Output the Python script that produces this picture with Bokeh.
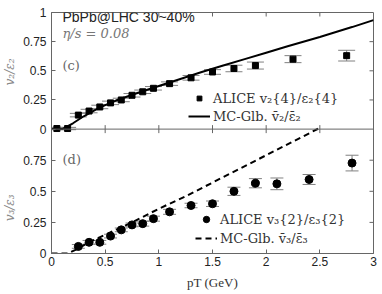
import math
from bokeh.plotting import figure
from bokeh.models import (ColumnDataSource, Range1d, LinearAxis, FixedTicker, Whisker,
                          TeeHead, Label, Legend, LegendItem, Span)
from bokeh.embed import file_html
from bokeh.resources import INLINE

# ---------------- data ----------------
# panel (c): ALICE v2{4}/eps2{4}
pt_v2 = [0.05, 0.15, 0.25, 0.35, 0.45, 0.55, 0.65, 0.75, 0.85, 0.95, 1.1, 1.3, 1.5, 1.7, 1.9, 2.25, 2.75]
v2_ratio = [0.005, 0.005, 0.12, 0.155, 0.19, 0.225, 0.25, 0.29, 0.32, 0.35, 0.39, 0.44, 0.49, 0.52, 0.545, 0.60, 0.63]
v2_err = [0.01, 0.01, 0.015, 0.015, 0.015, 0.015, 0.015, 0.015, 0.015, 0.015, 0.015, 0.02, 0.02, 0.028, 0.03, 0.03, 0.046]
# panel (c): MC-Glauber curve
mc_pt2 = [0, 0.1, 0.2, 0.3, 0.4, 0.5, 0.6, 0.8, 1.0, 1.2, 1.4, 1.6, 1.8, 2.0, 2.2, 2.5, 2.8, 3.0]
mc_v2 = [0, 0, 0.05, 0.11, 0.16, 0.205, 0.245, 0.31, 0.37, 0.43, 0.49, 0.545, 0.60, 0.655, 0.71, 0.79, 0.875, 0.935]

# panel (d): ALICE v3{2}/eps3{2}
pt_v3 = [0.25, 0.35, 0.45, 0.55, 0.65, 0.75, 0.85, 0.95, 1.1, 1.3, 1.5, 1.7, 1.9, 2.1, 2.4, 2.8]
v3_ratio = [0.057, 0.09, 0.09, 0.14, 0.19, 0.23, 0.24, 0.28, 0.335, 0.386, 0.40, 0.50, 0.565, 0.56, 0.595, 0.727]
v3_err = [0.015, 0.015, 0.015, 0.015, 0.015, 0.015, 0.02, 0.02, 0.02, 0.018, 0.022, 0.033, 0.037, 0.047, 0.04, 0.063]
# panel (d): MC-Glauber curve
mc_pt3 = [0, 0.15, 0.25, 0.35, 0.5, 0.75, 1.0, 1.25, 1.5, 1.75, 2.0, 2.25, 2.5]
mc_v3 = [0, 0, 0.04, 0.09, 0.15, 0.25, 0.36, 0.46, 0.57, 0.68, 0.79, 0.90, 1.01]

x_ticks = [0, 0.5, 1, 1.5, 2, 2.5, 3]
x_tick_labels = ["0", "0.5", "1", "1.5", "2", "2.5", "3"]
y_ticks_top = [0, 0.25, 0.5, 0.75, 1]
y_tick_labels_top = ["0", "0.25", "0.5", "0.75", "1"]
y_ticks_bot = [0, 0.25, 0.5, 0.75]
y_tick_labels_bot = ["0", "0.25", "0.5", "0.75"]
y_title_top = "v\u2082/\u03b5\u2082"
y_title_bot = "v\u2083/\u03b5\u2083"
x_title = "pT (GeV)"

# ---------------- layout constants ----------------
H_TOP, H_BOT = 120, 128           # pixel heights of the two stacked panels
bot_end = (H_TOP + H_BOT) / H_BOT
top_start = -H_BOT / H_TOP
AX = "#666666"
TICK_FONT = "Liberation Sans"
MATH_FONT = "DejaVu Serif"

p = figure(width=380, height=292, x_range=Range1d(0, 3), y_range=Range1d(0, bot_end),
           output_backend="svg", toolbar_location=None,
           x_axis_location=None, y_axis_location=None,
           min_border_left=49, min_border_right=7, min_border_top=12, min_border_bottom=32)
p.extra_y_ranges = {"top": Range1d(top_start, 1)}
p.grid.visible = False
p.outline_line_color = AX
p.background_fill_color = "white"
p.border_fill_color = "white"


def to_bot(v):
    return 1 + v * H_TOP / H_BOT


def make_axis(ticks, labels, standoff):
    ax = LinearAxis(ticker=FixedTicker(ticks=ticks))
    ax.major_label_overrides = {t: s for t, s in zip(ticks, labels)}
    ax.major_tick_in = 4
    ax.major_tick_out = 0
    ax.minor_tick_in = 0
    ax.minor_tick_out = 0
    ax.axis_line_color = AX
    ax.major_tick_line_color = AX
    ax.major_label_text_font = TICK_FONT
    ax.major_label_text_color = "#222222"
    ax.major_label_text_font_size = "12px"
    ax.major_label_standoff = standoff
    return ax


xax = make_axis(x_ticks, x_tick_labels, 3)
xax.axis_label = x_title
xax.axis_label_text_font = "Liberation Serif"
xax.axis_label_text_font_style = "normal"
xax.axis_label_text_font_size = "13px"
xax.axis_label_text_color = "#333333"
xax.axis_label_standoff = 6
p.add_layout(xax, "below")

left_ticks = list(y_ticks_bot) + [to_bot(v) for v in y_ticks_top]
left_labels = list(y_tick_labels_bot) + list(y_tick_labels_top)
p.add_layout(make_axis(left_ticks, left_labels, 5), "left")

# y titles of the two panels, drawn as vertical labels of an outer axis
title_pos = [0.367, to_bot(0.49)]
tax = LinearAxis(ticker=FixedTicker(ticks=title_pos))
tax.major_label_overrides = {title_pos[0]: y_title_bot, title_pos[1]: y_title_top}
tax.major_label_orientation = "vertical"
tax.major_tick_in = 0
tax.major_tick_out = 0
tax.minor_tick_in = 0
tax.minor_tick_out = 0
tax.axis_line_color = None
tax.major_label_text_font = MATH_FONT
tax.major_label_text_font_style = "italic"
tax.major_label_text_font_size = "12px"
tax.major_label_text_color = "#888888"
tax.major_label_standoff = 3
p.add_layout(tax, "left")

# inward ticks on the top, right and middle edges (half of each dash is clipped)
p.scatter(x_ticks[1:-1], [1.0] * (len(x_ticks) - 2), marker="dash", angle=math.pi / 2,
          size=8, line_color=AX, line_width=1, y_range_name="top")
p.scatter([x_ticks[-1]] * (len(y_ticks_top) - 2), y_ticks_top[1:-1], marker="dash",
          size=8, line_color=AX, line_width=1, y_range_name="top")
p.scatter([x_ticks[-1]] * (len(y_ticks_bot) - 1), y_ticks_bot[1:], marker="dash",
          size=8, line_color=AX, line_width=1)
p.add_layout(Span(location=1.0, dimension="width", line_color=AX, line_width=1))
p.scatter(x_ticks[1:-1], [1.0] * (len(x_ticks) - 2), marker="dash", angle=math.pi / 2,
          size=8, line_color=AX, line_width=1)

ERR = "#808080"

# ---- panel (c)
src2 = ColumnDataSource(dict(x=pt_v2, y=v2_ratio,
                             lo=[a - b for a, b in zip(v2_ratio, v2_err)],
                             hi=[a + b for a, b in zip(v2_ratio, v2_err)]))
p.add_layout(Whisker(base="x", lower="lo", upper="hi", source=src2, y_range_name="top",
                     line_color=ERR, line_width=1,
                     lower_head=TeeHead(size=17, line_color=ERR, line_width=1),
                     upper_head=TeeHead(size=17, line_color=ERR, line_width=1)))
r_mc2 = p.line(mc_pt2, mc_v2, line_width=2, line_color="black", y_range_name="top")
r_sq = p.scatter("x", "y", source=src2, marker="square", size=6, fill_color="black",
                 line_color="black", y_range_name="top")

# ---- panel (d)
src3 = ColumnDataSource(dict(x=pt_v3, y=v3_ratio,
                             lo=[a - b for a, b in zip(v3_ratio, v3_err)],
                             hi=[a + b for a, b in zip(v3_ratio, v3_err)]))
p.add_layout(Whisker(base="x", lower="lo", upper="hi", source=src3,
                     line_color=ERR, line_width=1,
                     lower_head=TeeHead(size=13, line_color=ERR, line_width=1),
                     upper_head=TeeHead(size=13, line_color=ERR, line_width=1)))
r_mc3 = p.line(mc_pt3, mc_v3, line_width=2, line_color="black", line_dash="6 4")
r_ci = p.scatter("x", "y", source=src3, marker="circle", size=8, fill_color="black",
                 line_color="black")


def style_legend(lg, glyph_h, spacing):
    lg.label_text_font = MATH_FONT
    lg.label_text_font_size = "13px"
    lg.label_text_color = "#333333"
    lg.glyph_width = 22
    lg.glyph_height = glyph_h
    lg.label_height = 18
    lg.label_standoff = 3
    lg.padding = 0
    lg.margin = 0
    lg.spacing = spacing
    lg.border_line_color = None
    lg.background_fill_alpha = 0


leg_top = Legend(items=[LegendItem(label="ALICE v\u2082{4}/\u03b5\u2082{4}", renderers=[r_sq]),
                        LegendItem(label="MC-Glb. v\u0304\u2082/\u03b5\u0304\u2082", renderers=[r_mc2])],
                 location=(137, 128))
style_legend(leg_top, 12, 0)
p.add_layout(leg_top)

leg_bot = Legend(items=[LegendItem(label="ALICE v\u2083{2}/\u03b5\u2083{2}", renderers=[r_ci]),
                        LegendItem(label="MC-Glb. v\u0304\u2083/\u03b5\u0304\u2083", renderers=[r_mc3])],
                 location=(144, 6))
style_legend(leg_bot, 16, 1)
p.add_layout(leg_bot)


def add_text(text, x, y, font, size, color, style="normal"):
    p.add_layout(Label(x=x, y=y, x_units="screen", y_units="screen", text=text,
                       text_font=font, text_font_size=size, text_color=color,
                       text_font_style=style, text_align="left", text_baseline="middle"))


add_text("PbPb@LHC 30~40%", 11, 237, "Liberation Sans", "14px", "#222222")
add_text("\u03b7/s = 0.08", 11, 220, MATH_FONT, "13px", "#777777", style="italic")
add_text("(c)", 11, 188, MATH_FONT, "13px", "#666666")
add_text("(d)", 11, 94, MATH_FONT, "13px", "#666666")

open("out.html", "w").write(file_html(p, INLINE))
